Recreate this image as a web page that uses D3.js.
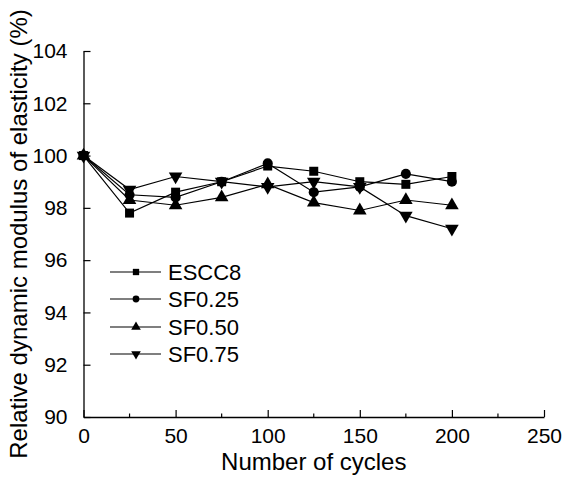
<!DOCTYPE html>
<html>
<head>
<meta charset="utf-8">
<script src="https://cdn.jsdelivr.net/npm/d3@7"></script>
<style>
  html, body { margin: 0; padding: 0; background: #fff; }
  svg { display: block; font-family: "Liberation Sans", Arial, sans-serif; }
</style>
</head>
<body>
<svg id="chart" width="566" height="477"></svg>
<script>
const cycles = [0, 25, 50, 75, 100, 125, 150, 175, 200];
const seriesNames = ["ESCC8", "SF0.25", "SF0.50", "SF0.75"];
const escc8 = [100, 97.8, 98.6, 99.0, 99.6, 99.4, 99.0, 98.9, 99.2];
const sf025 = [100, 98.5, 98.4, 99.0, 99.7, 98.6, 98.8, 99.3, 99.0];
const sf050 = [100, 98.3, 98.1, 98.4, 98.9, 98.2, 97.9, 98.3, 98.1];
const sf075 = [100, 98.7, 99.2, 99.0, 98.8, 99.0, 98.8, 97.7, 97.2];
const xTicks = [0, 50, 100, 150, 200, 250];
const xMinorTicks = [25, 75, 125, 175, 225];
const yTicks = [90, 92, 94, 96, 98, 100, 102, 104];
const symbols = ["square", "circle", "triangleUp", "triangleDown"];

const allValues = [escc8, sf025, sf050, sf075];

const svg = d3.select("#chart");
const margin = { left: 83.5, right: 22, top: 51, bottom: 60 };
const W = 566, H = 477;
const x = d3.scaleLinear().domain([0, 250]).range([margin.left, W - margin.right]);
const y = d3.scaleLinear().domain([90, 104]).range([H - margin.bottom, margin.top]);

// Axes
const xAxis = d3.axisBottom(x).tickValues(xTicks).tickSizeInner(-7).tickSizeOuter(0).tickPadding(11);
const gx = svg.append("g").attr("transform", `translate(0,${y(90)})`).call(xAxis);
gx.append("g").selectAll("line").data(xMinorTicks).join("line")
  .attr("x1", d => x(d)).attr("x2", d => x(d)).attr("y1", 0).attr("y2", -3.5)
  .attr("stroke", "#000").attr("stroke-width", 1.2);

const yAxis = d3.axisLeft(y).tickValues(yTicks).tickSizeInner(-7).tickSizeOuter(0).tickPadding(16);
const gy = svg.append("g").attr("transform", `translate(${x(0)},0)`).call(yAxis);

[gx, gy].forEach(g => {
  g.select(".domain").attr("stroke", "#000").attr("stroke-width", 1.3);
  g.selectAll(".tick line").attr("stroke", "#000").attr("stroke-width", 1.2);
  g.selectAll(".tick text").attr("fill", "#000").style("font-size", "21px")
    .style("font-family", '"Liberation Sans", Arial, sans-serif');
});
gx.selectAll(".tick text").attr("dy", "0.71em");

// Titles
svg.append("text").attr("x", (x(0) + x(250)) / 2).attr("y", 470)
  .attr("text-anchor", "middle").style("font-size", "24px").text("Number of cycles");
svg.append("text").attr("transform", `translate(27,${(y(90) + y(104)) / 2}) rotate(-90)`)
  .attr("text-anchor", "middle").style("font-size", "24px")
  .text("Relative dynamic modulus of elasticity (%)");

function sym(type, size) {
  const map = {
    square: d3.symbolSquare, circle: d3.symbolCircle,
    triangleUp: d3.symbolTriangle, triangleDown: d3.symbolTriangle
  };
  return d3.symbol().type(map[type]).size(size)();
}

const line = d3.line().x((d, i) => x(cycles[i])).y(d => y(d));

allValues.forEach((vals, si) => {
  svg.append("path").datum(vals).attr("d", line)
    .attr("fill", "none").attr("stroke", "#000").attr("stroke-width", 1.2);
});
allValues.forEach((vals, si) => {
  const type = symbols[si];
  const size = type === "circle" ? 80 : (type === "square" ? 81 : 80);
  svg.append("g").selectAll("path").data(vals).join("path")
    .attr("d", sym(type, size))
    .attr("transform", (d, i) => `translate(${x(cycles[i])},${y(d)})` + (type === "triangleDown" ? " rotate(180)" : ""))
    .attr("fill", "#000");
});

// Legend
const legendY = [272, 299, 327, 354];
seriesNames.forEach((name, i) => {
  const g = svg.append("g").attr("transform", `translate(0,${legendY[i]})`);
  g.append("line").attr("x1", 110).attr("x2", 161).attr("y1", 0).attr("y2", 0)
    .attr("stroke", "#000").attr("stroke-width", 1.2);
  const type = symbols[i];
  g.append("path").attr("d", sym(type, type === "circle" ? 36 : 40))
    .attr("transform", `translate(136,0)` + (type === "triangleDown" ? " rotate(180)" : ""))
    .attr("fill", "#000");
  g.append("text").attr("x", 168).attr("y", 0).attr("dy", "0.36em")
    .style("font-size", "22px").text(name);
});
</script>
</body>
</html>
